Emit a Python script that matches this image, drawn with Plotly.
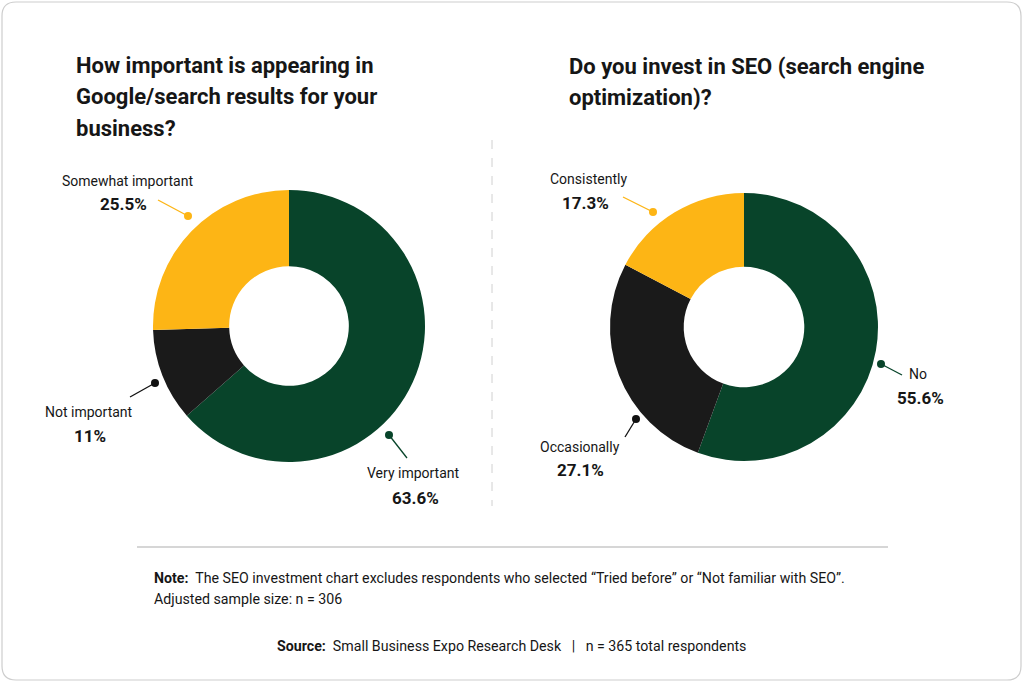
import plotly.graph_objects as go

W, H = 1024, 683

# ---- data ----
q1_labels = ["Very important", "Not important", "Somewhat important"]
q1_values = [63.6, 11.0, 25.5]
q1_text = ["63.6%", "11%", "25.5%"]

q2_labels = ["No", "Occasionally", "Consistently"]
q2_values = [55.6, 27.1, 17.3]
q2_text = ["55.6%", "27.1%", "17.3%"]

colors = ["#08442A", "#1A1A1A", "#FDB515"]

title1_lines = ["How important is appearing in", "Google/search results for your", "business?"]
title2_lines = ["Do you invest in SEO (search engine", "optimization)?"]

note_line1 = "<b>Note:</b>  The SEO investment chart excludes respondents who selected \u201cTried before\u201d or \u201cNot familiar with SEO\u201d."
note_line2 = "Adjusted sample size: n = 306"
source_line = "<b>Source:</b>  Small Business Expo Research Desk   |   n = 365 total respondents"

FONT = "Roboto"
TXT = "#161616"


def px(x):
    return x / W


def py(y):
    return 1 - y / H


fig = go.Figure()

# donuts (pixel geometry -> paper domain)
def domain(cx, cy, r):
    return dict(x=[px(cx - r), px(cx + r)], y=[py(cy + r), py(cy - r)])


fig.add_trace(go.Pie(
    labels=q1_labels, values=q1_values, sort=False, direction="clockwise",
    rotation=0, hole=0.44, marker=dict(colors=colors, line=dict(width=0)),
    textinfo="none", hoverinfo="label+percent", showlegend=False,
    domain=domain(289, 326, 136),
))
fig.add_trace(go.Pie(
    labels=q2_labels, values=q2_values, sort=False, direction="clockwise",
    rotation=0, hole=0.45, marker=dict(colors=colors, line=dict(width=0)),
    textinfo="none", hoverinfo="label+percent", showlegend=False,
    domain=domain(744, 327, 134),
))

shapes = []
annotations = []

# card border (rounded rectangle)
x0, y0, x1, y1, rr = 2, 2, 1021, 680, 14
path = (f"M {px(x0+rr)},{py(y0)} L {px(x1-rr)},{py(y0)} "
        f"Q {px(x1)},{py(y0)} {px(x1)},{py(y0+rr)} "
        f"L {px(x1)},{py(y1-rr)} Q {px(x1)},{py(y1)} {px(x1-rr)},{py(y1)} "
        f"L {px(x0+rr)},{py(y1)} Q {px(x0)},{py(y1)} {px(x0)},{py(y1-rr)} "
        f"L {px(x0)},{py(y0+rr)} Q {px(x0)},{py(y0)} {px(x0+rr)},{py(y0)} Z")
shapes.append(dict(type="path", xref="paper", yref="paper", path=path,
                   line=dict(color="#CDCDCD", width=1.2), fillcolor="rgba(0,0,0,0)", layer="below"))

# dashed divider
shapes.append(dict(type="line", xref="paper", yref="paper", x0=px(492), x1=px(492),
                   y0=py(140), y1=py(506), line=dict(color="#D0D0D0", width=1, dash="dash")))
# horizontal rule
shapes.append(dict(type="line", xref="paper", yref="paper", x0=px(137), x1=px(888),
                   y0=py(547), y1=py(547), line=dict(color="#C8C8C8", width=1.5)))


def text(x, y, s, size, bold=False, anchor="center"):
    annotations.append(dict(xref="paper", yref="paper", x=px(x), y=py(y), text=(f"<b>{s}</b>" if bold else s),
                            showarrow=False, xanchor=anchor, yanchor="middle",
                            font=dict(family=FONT, size=size, color=TXT)))


# titles
for i, t in enumerate(title1_lines):
    text(74, 65 + i * 31.5, t, 22, bold=True, anchor="left")
for i, t in enumerate(title2_lines):
    text(567, 66 + i * 31.5, t, 22, bold=True, anchor="left")


def callout(label, pct, color, lab_xy, pct_xy, l0, dot):
    text(lab_xy[0], lab_xy[1], label, 14)
    text(pct_xy[0], pct_xy[1], pct, 17, bold=True)
    shapes.append(dict(type="line", xref="paper", yref="paper", x0=px(l0[0]), y0=py(l0[1]),
                       x1=px(dot[0]), y1=py(dot[1]), line=dict(color=color, width=1.3)))
    r = 4
    shapes.append(dict(type="circle", xref="paper", yref="paper", x0=px(dot[0]-r), x1=px(dot[0]+r),
                       y0=py(dot[1]+r), y1=py(dot[1]-r), fillcolor=color, line=dict(width=0)))


dot_colors = ["#08442A", "#111111", "#FDB515"]
callout(q1_labels[0], q1_text[0], dot_colors[0], (413, 473), (415, 498), (407, 458), (389, 435))
callout(q1_labels[1], q1_text[1], dot_colors[1], (89, 412), (90, 436), (130, 397), (155, 383))
callout(q1_labels[2], q1_text[2], dot_colors[2], (127, 181), (123, 204), (158, 200), (188, 216))

callout(q2_labels[0], q2_text[0], dot_colors[0], (918, 374), (920, 398), (902, 375), (881, 364))
callout(q2_labels[1], q2_text[1], dot_colors[1], (580, 447), (580, 470), (625, 437), (636, 419))
callout(q2_labels[2], q2_text[2], dot_colors[2], (588, 179), (585, 203), (623, 197), (653, 212))

# note & source
text(152, 578, note_line1, 14.2, anchor="left")
text(152, 599, note_line2, 14.2, anchor="left")
text(511, 646, source_line, 14.2)

fig.update_layout(
    width=W, height=H, margin=dict(l=0, r=0, t=0, b=0),
    paper_bgcolor="white", plot_bgcolor="white",
    shapes=shapes, annotations=annotations,
    font=dict(family=FONT, color=TXT),
)

fig.write_html("out.html")
